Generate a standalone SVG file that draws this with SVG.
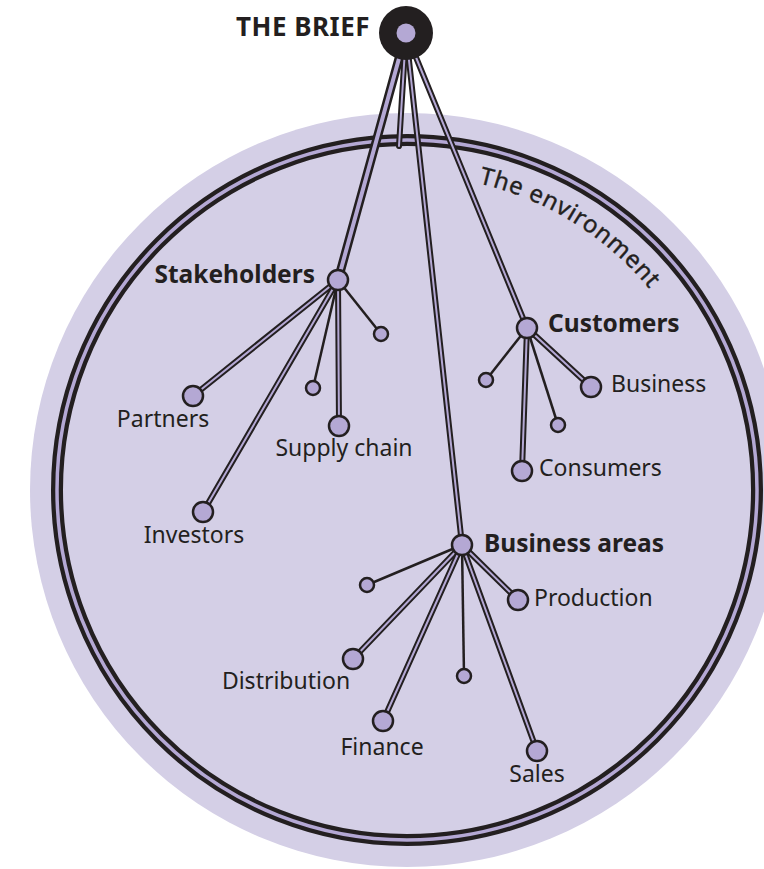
<svg xmlns="http://www.w3.org/2000/svg" width="764" height="869" viewBox="0 0 764 869">
<style>
.t{font-family:"Noto Sans","Open Sans","DejaVu Sans",sans-serif;fill:#231f20;font-size:23px}
.b{font-weight:bold;font-size:24.5px}
.o{fill:none;stroke:#231f20;stroke-width:6;stroke-linecap:round}
.i{fill:none;stroke:#b4a8d4;stroke-width:2;stroke-linecap:round}
.s{fill:none;stroke:#231f20;stroke-width:2.5}
.n{fill:#b4a8d4;stroke:#231f20;stroke-width:2.5}
</style>
<defs>
<path id="b1" d="M406,33 L338,280"/>
<path id="b2" d="M406,33 L462,545"/>
<path id="b3" d="M406,33 L527,328"/>
<path id="b4" d="M406,33 L399,146"/>
<path id="s1" d="M338,280 L193,396"/>
<path id="s2" d="M338,280 L203,512"/>
<path id="s3" d="M338,280 L339,426"/>
<path id="c1" d="M527,328 L591,387"/>
<path id="c2" d="M527,328 L522,471"/>
<path id="a1" d="M462,545 L518,600"/>
<path id="a2" d="M462,545 L353,659"/>
<path id="a3" d="M462,545 L383,721"/>
<path id="a4" d="M462,545 L537,751"/>
<path id="env" d="M92,490 A315,315 0 0 1 722,490"/>
</defs>
<g id="environment">
<circle cx="407" cy="490" r="377" fill="#d4cfe6"/>
<circle cx="407" cy="490" r="350" fill="none" stroke="#231f20" stroke-width="12"/>
<circle cx="407" cy="490" r="350" fill="none" stroke="#b4a8d4" stroke-width="3.5"/>
<text class="t" style="font-size:24px" letter-spacing="0.8" stroke="#231f20" stroke-width="0.4"><textPath href="#env" startOffset="57.3%">The environment</textPath></text>
</g>
<g id="connectors">
<use href="#b1" class="o" style="stroke-width:9"/><use href="#b1" class="i" style="stroke-width:4"/>
<use href="#b4" class="o"/><use href="#b4" class="i"/>
<use href="#b2" class="o"/><use href="#b2" class="i"/>
<use href="#b3" class="o"/><use href="#b3" class="i"/>
<use href="#s1" class="o"/><use href="#s1" class="i"/>
<use href="#s2" class="o"/><use href="#s2" class="i"/>
<use href="#s3" class="o"/><use href="#s3" class="i"/>
<line class="s" x1="338" y1="280" x2="381" y2="334"/>
<line class="s" x1="338" y1="280" x2="313" y2="388"/>
<use href="#c1" class="o"/><use href="#c1" class="i"/>
<use href="#c2" class="o"/><use href="#c2" class="i"/>
<line class="s" x1="527" y1="328" x2="486" y2="380"/>
<line class="s" x1="527" y1="328" x2="558" y2="425"/>
<use href="#a1" class="o"/><use href="#a1" class="i"/>
<use href="#a2" class="o"/><use href="#a2" class="i"/>
<use href="#a3" class="o"/><use href="#a3" class="i"/>
<use href="#a4" class="o"/><use href="#a4" class="i"/>
<line class="s" x1="462" y1="545" x2="367" y2="585"/>
<line class="s" x1="462" y1="545" x2="464" y2="676"/>
</g>
<g id="brief">
<circle cx="406" cy="33" r="27" fill="#231f20"/>
<circle cx="406" cy="33" r="9.5" fill="#b4a8d4"/>
<text class="t b" x="236" y="36" style="font-size:26px" letter-spacing="0.5">THE BRIEF</text>
</g>
<g id="stakeholders">
<circle class="n" cx="338" cy="280" r="10"/>
<text class="t b" x="315" y="283" text-anchor="end">Stakeholders</text>
</g>
<g id="partners"><circle class="n" cx="193" cy="396" r="10"/><text class="t" x="163" y="427" text-anchor="middle">Partners</text></g>
<g id="investors"><circle class="n" cx="203" cy="512" r="10"/><text class="t" x="194" y="543" text-anchor="middle">Investors</text></g>
<g id="supply-chain"><circle class="n" cx="339" cy="426" r="10"/><text class="t" x="344" y="456" text-anchor="middle">Supply chain</text></g>
<g id="stake-minor-1"><circle class="n" cx="381" cy="334" r="7"/></g>
<g id="stake-minor-2"><circle class="n" cx="313" cy="388" r="7"/></g>
<g id="customers">
<circle class="n" cx="527" cy="328" r="10"/>
<text class="t b" x="548" y="332">Customers</text>
</g>
<g id="business"><circle class="n" cx="591" cy="387" r="10"/><text class="t" x="611" y="392">Business</text></g>
<g id="consumers"><circle class="n" cx="522" cy="471" r="10"/><text class="t" x="539" y="476">Consumers</text></g>
<g id="cust-minor-1"><circle class="n" cx="486" cy="380" r="7"/></g>
<g id="cust-minor-2"><circle class="n" cx="558" cy="425" r="7"/></g>
<g id="business-areas">
<circle class="n" cx="462" cy="545" r="10"/>
<text class="t b" x="484" y="552">Business areas</text>
</g>
<g id="production"><circle class="n" cx="518" cy="600" r="10"/><text class="t" x="534" y="606">Production</text></g>
<g id="distribution"><circle class="n" cx="353" cy="659" r="10"/><text class="t" x="286" y="689" text-anchor="middle">Distribution</text></g>
<g id="finance"><circle class="n" cx="383" cy="721" r="10"/><text class="t" x="382" y="755" text-anchor="middle">Finance</text></g>
<g id="sales"><circle class="n" cx="537" cy="751" r="10"/><text class="t" x="537" y="782" text-anchor="middle">Sales</text></g>
<g id="area-minor-1"><circle class="n" cx="367" cy="585" r="7"/></g>
<g id="area-minor-2"><circle class="n" cx="464" cy="676" r="7"/></g>
</svg>
